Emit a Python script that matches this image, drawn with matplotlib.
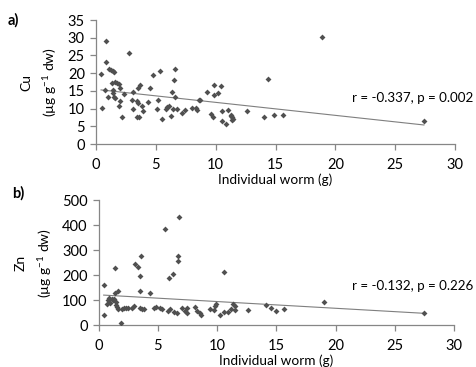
import numpy as np
import matplotlib
matplotlib.use('Agg')
import matplotlib.pyplot as plt

plt.rcParams['font.family'] = ['Lato', 'DejaVu Sans']

# Cu (panel a) - individual worm weight (g) vs concentration
cu_x = [0.42, 0.53, 0.75, 0.86, 0.83, 0.97, 1.08, 1.25, 1.39, 1.5, 1.36, 1.58, 1.44, 1.44,
        1.47, 1.58, 1.78, 1.94, 2.03, 2.03, 1.94, 2.17, 2.36, 2.72, 2.97, 3.06, 3.11, 3.39,
        3.61, 3.39, 3.47, 3.47, 3.67, 3.81, 3.89, 4.31, 4.53, 4.72, 5.11, 5.17, 5.36, 5.53,
        5.83, 5.97, 6.08, 6.25, 6.39, 6.53, 6.64, 6.64, 6.44, 6.75, 7.19, 7.44, 8.06, 8.33,
        8.44, 8.61, 8.69, 9.31, 9.64, 9.78, 9.83, 9.86, 10.19, 10.47, 10.53, 10.53, 10.89,
        11.03, 11.31, 11.39, 11.44, 11.25, 11.4, 12.6, 14.03, 14.4, 14.9, 15.6, 18.9, 27.4]
cu_y = [19.7, 10.2, 15.2, 29.0, 23.2, 13.2, 21.1, 20.9, 20.5, 20.4, 17.3, 17.6, 15.3, 14.3,
        13.3, 12.9, 17.2, 16.9, 15.8, 12.2, 10.6, 7.6, 14.0, 25.6, 12.3, 14.6, 10.0, 7.5,
        7.5, 12.2, 11.5, 15.7, 16.6, 10.6, 9.2, 11.8, 15.9, 19.4, 9.8, 12.5, 20.6, 7.0,
        9.8, 10.4, 10.6, 7.8, 14.7, 18.2, 21.1, 13.4, 9.9, 9.8, 8.7, 9.6, 10.1, 10.2,
        9.6, 12.4, 12.3, 14.6, 8.6, 7.6, 16.6, 13.7, 14.5, 16.3, 9.3, 6.6, 5.6,
        9.5, 8.0, 7.6, 7.0, 8.2, 6.8, 9.3, 7.5, 18.3, 8.2, 8.3, 30.1, 6.4]

# Zn (panel b)
zn_x = [0.42, 0.48, 0.73, 0.82, 0.9, 0.99, 1.13, 1.24, 1.33, 1.41, 1.41, 1.44, 1.5, 1.53,
        1.64, 1.64, 1.86, 1.98, 2.15, 2.32, 2.46, 2.82, 2.99, 3.08, 3.31, 3.45, 3.45, 3.59,
        3.47, 3.64, 3.84, 4.29, 4.63, 4.8, 5.14, 5.31, 5.56, 5.96, 6.27, 6.67, 6.69, 6.81,
        5.85, 6.05, 6.36, 6.58, 7.03, 7.29, 7.49, 7.46, 8.14, 8.33, 8.53, 8.67, 9.38, 9.72,
        9.86, 9.94, 10.24, 10.6, 10.56, 10.93, 11.2, 11.37, 11.5, 11.5, 12.63, 14.1, 14.55,
        14.97, 15.68, 19.05, 27.5]
zn_y = [162, 40, 85, 101, 108, 88, 106, 101, 106, 229, 128, 82, 93, 72,
        138, 64, 11, 64, 68, 68, 68, 69, 77, 243, 231, 197, 138, 275,
        68, 66, 65, 128, 68, 74, 68, 64, 383, 188, 205, 258, 277, 432,
        58, 64, 53, 48, 68, 58, 48, 68, 74, 58, 50, 41, 64, 61,
        77, 85, 40, 211, 53, 53, 64, 85, 77, 61, 62, 82, 69,
        58, 66, 93, 48]

panels = [
    ('a)', cu_x, cu_y, 'Cu', (0, 35), 5, 'r = -0.337, p = 0.002', 13.1,
     [0.2013, 0.6076, 0.7526, 0.3379], 1.0),
    ('b)', zn_x, zn_y, 'Zn', (0, 500), 100, 'r = -0.132, p = 0.226', 157,
     [0.2069, 0.1136, 0.7449, 0.3414], 1.056),
]

fig = plt.figure(figsize=(4.77, 3.67), dpi=100)
grey = '#868686'

for lab, x, y, metal, ylim, ystep, stat, ty, rect, laby in panels:
    ax = fig.add_axes(rect)
    x = np.array(x)
    y = np.array(y)
    ax.scatter(x, y, marker='D', s=9, color='#505050', linewidths=0, zorder=3)
    k, b = np.polyfit(x, y, 1)
    xs = np.array([x.min(), x.max()])
    ax.plot(xs, k * xs + b, color='#7f7f7f', lw=0.8, zorder=2)
    ax.set_xlim(0, 30)
    ax.set_ylim(*ylim)
    ax.set_xticks(range(0, 31, 5))
    ax.set_yticks(np.arange(ylim[0], ylim[1] + 1, ystep))
    for s in ['top', 'right']:
        ax.spines[s].set_visible(False)
    for s in ['left', 'bottom']:
        ax.spines[s].set_color(grey)
        ax.spines[s].set_linewidth(0.9)
    ax.tick_params(direction='out', length=4, color=grey, width=0.9,
                   labelsize=10.5, pad=4)
    ax.tick_params(axis='x', pad=6)
    ax.set_xlabel('Individual worm (g)', fontsize=9.8, labelpad=1)
    ax.set_ylabel(metal + '\n(µg g$^{\\mathregular{-1}}$ dw)', fontsize=10,
                  linespacing=1.6, labelpad=6)
    ax.text(21.4, ty, stat, fontsize=9.6, va='center', ha='left', clip_on=False)
    ax.text(-0.245, laby, lab, transform=ax.transAxes, fontsize=10.5,
            fontweight='bold', ha='left', va='center')

fig.savefig('out.png', dpi=100)
